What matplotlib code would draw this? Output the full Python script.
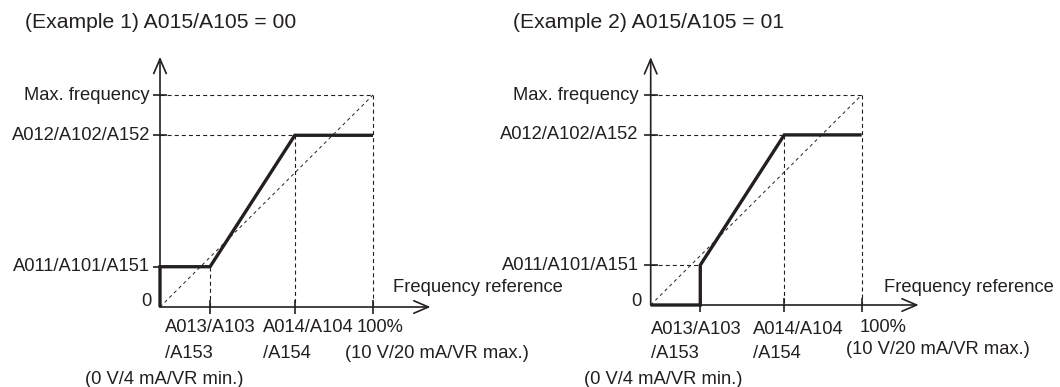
import matplotlib
matplotlib.use("Agg")
import matplotlib.pyplot as plt

plt.rcParams['font.family'] = ['Liberation Sans', 'DejaVu Sans']

# ---------------- data (percent of max frequency / percent of reference) -------------
A013 = 23.5   # start frequency reference  (A013/A103/A153)
A014 = 63.3   # end frequency reference    (A014/A104/A154)
A011 = 19.0   # start frequency            (A011/A101/A151)
A012 = 81.0   # end frequency              (A012/A102/A152)
MAXREF = 100.0
MAXFREQ = 100.0

titles = ["(Example 1) A015/A105 = 00", "(Example 2) A015/A105 = 01"]
ex1_x = [0, 0, A013, A014, MAXREF]
ex1_y = [0, A011, A011, A012, A012]
ex2_x = [0, A013, A013, A014, MAXREF]
ex2_y = [0, 0, A011, A012, A012]

ytick_vals = [MAXFREQ, A012, A011]
ytick_labels = ["Max. frequency", "A012/A102/A152", "A011/A101/A151"]
xtick_vals = [A013, A014, MAXREF]
xlabel = "Frequency reference"

INK = "#231f20"
W, H = 1060, 387
fig = plt.figure(figsize=(W / 100, H / 100), dpi=100)

FS = 13.2
TFS = 15.2


def make_axes(pl, pr, x0, x100, y0, y100):
    sx = (x100 - x0) / 100.0
    sy = (y0 - y100) / 100.0
    ax = fig.add_axes([pl / W, 0, (pr - pl) / W, 1])
    ax.set_xlim((pl - x0) / sx, (pr - x0) / sx)
    ax.set_ylim((y0 - H) / sy, y0 / sy)
    ax.axis('off')
    ax.patch.set_visible(False)
    return ax


def dashed(ax, xs, ys, lw=0.8, pat=(3.6, 2.8)):
    ax.plot(xs, ys, color=INK, lw=lw, linestyle=(0, pat), dash_capstyle='butt',
            solid_capstyle='butt', zorder=2)


def lbl(ax, xy, off, s, ha='left', va='center'):
    ax.annotate(s, xy=xy, xytext=off, textcoords='offset pixels', ha=ha, va=va,
                fontsize=FS, color=INK, annotation_clip=False)


def panel(ax, cx, cy, example, xoffs, yl_off, zero_off, fr_off):
    top = 118
    right = 127
    arrow = dict(arrowstyle='->,head_length=0.7,head_width=0.3', lw=1.2, color=INK,
                 shrinkA=0, shrinkB=0, mutation_scale=15)
    ax.annotate('', xy=(0, top), xytext=(0, 0), arrowprops=arrow, zorder=3)
    ax.annotate('', xy=(right, 0), xytext=(0, 0), arrowprops=arrow, zorder=3)

    # reference dashed lines
    dashed(ax, [0, MAXREF], [MAXFREQ, MAXFREQ])
    dashed(ax, [MAXREF, MAXREF], [MAXFREQ, 0])
    dashed(ax, [A014, A014], [A012, 0])
    dashed(ax, [0, A014], [A012, A012])
    if example == 1:
        dashed(ax, [A013, A013], [A011, 0])
    else:
        dashed(ax, [0, A013], [A011, A011])
    dashed(ax, [0, MAXREF], [0, MAXFREQ], lw=0.7, pat=(3.4, 3.4))

    # characteristic
    ax.plot(cx, cy, color=INK, lw=2.4, solid_joinstyle='miter', solid_capstyle='butt', zorder=4)

    # ticks
    ax.plot([0] * len(ytick_vals), ytick_vals, ls='none', marker='_', ms=10.5, mew=1.2,
            color=INK, zorder=3)
    ax.plot(xtick_vals, [0] * len(xtick_vals), ls='none', marker='|', ms=9.5, mew=1.2,
            color=INK, zorder=3)

    for v, s in zip(ytick_vals, ytick_labels):
        lbl(ax, (0, v), (yl_off, 0), s, ha='right')
    lbl(ax, (0, 0), zero_off, "0", ha='right')

    texts = [["A013/A103", "/A153", "(0 V/4 mA/VR min.)"],
             ["A014/A104", "/A154"],
             ["100%", "(10 V/20 mA/VR max.)"]]
    for xv, tl, offs in zip(xtick_vals, texts, xoffs):
        for s, o in zip(tl, offs):
            lbl(ax, (xv, 0), o, s)
    lbl(ax, (right, 0), fr_off, xlabel)


ax1 = make_axes(0, 530, 160, 373, 307, 95)
panel(ax1, ex1_x, ex1_y, 1,
      [[(-45, -20), (-45, -46), (-125, -72)],
       [(-32, -20), (-32, -46)],
       [(-16, -20), (-28, -46)]],
      -10, (-8, 5), (-38, 20))

ax2 = make_axes(490, 1060, 650.7, 861.7, 305, 95)
panel(ax2, ex2_x, ex2_y, 2,
      [[(-49, -25), (-49, -48), (-116, -75)],
       [(-31, -25), (-31, -48)],
       [(-2, -23), (-16, -45)]],
      -12, (-9, 3), (-35, 18))

fig.text(25 / W, 1 - 22 / H, titles[0], fontsize=TFS, color=INK, ha='left', va='center')
fig.text(513 / W, 1 - 22 / H, titles[1], fontsize=TFS, color=INK, ha='left', va='center')

fig.savefig("out.png", dpi=100, facecolor='white')
